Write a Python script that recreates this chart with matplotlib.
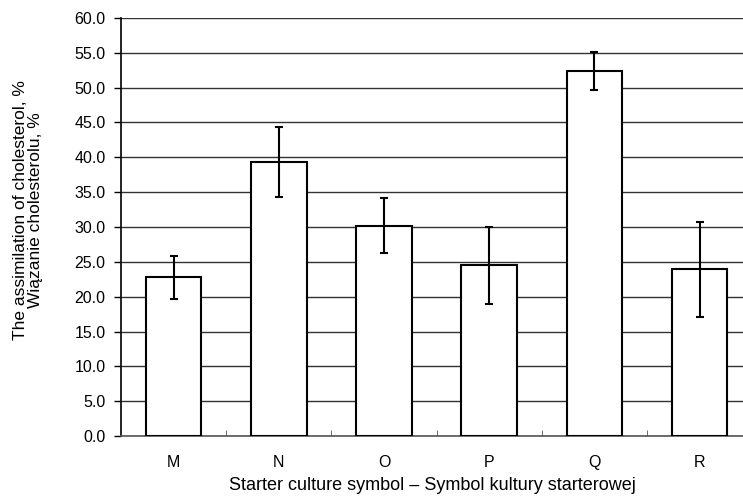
import matplotlib.pyplot as plt
from matplotlib.ticker import FormatStrFormatter, FixedLocator

plt.rcParams['font.family'] = ['Liberation Sans', 'DejaVu Sans']

categories = ['M', 'N', 'O', 'P', 'Q', 'R']
values = [22.8, 39.3, 30.2, 24.5, 52.4, 23.9]
errors = [3.1, 5.0, 4.0, 5.5, 2.7, 6.8]

fig = plt.figure(figsize=(7.43, 4.98), dpi=100)
ax = fig.add_axes([121/743, 62/498, 622/743, 418/498])

x = range(len(categories))
ax.bar(x, values, width=0.53, color='white', edgecolor='black', linewidth=1.5, zorder=3)
ax.errorbar(x, values, yerr=errors, fmt='none', ecolor='black', elinewidth=1.5,
            capsize=3, capthick=1.5, zorder=4)

ax.set_ylim(0, 60)
ax.set_xlim(-0.5, -0.5 + 622/105.2)
ax.set_yticks(range(0, 61, 5))
ax.yaxis.set_major_formatter(FormatStrFormatter('%.1f'))
ax.set_xticks(list(x))
ax.set_xticklabels(categories)
ax.xaxis.set_minor_locator(FixedLocator([i + 0.5 for i in range(5)]))
ax.tick_params(axis='x', which='major', length=0, pad=14, labelsize=11.5)
ax.tick_params(axis='x', which='minor', direction='in', length=4, color='#555555')
ax.tick_params(axis='y', direction='out', length=5, width=1, labelsize=11.5, pad=6)

ax.yaxis.grid(True, color='#333333', linewidth=1, zorder=0)
ax.set_axisbelow(True)
for s in ['top', 'right']:
    ax.spines[s].set_visible(False)
ax.spines['left'].set_linewidth(1.2)
ax.spines['bottom'].set_color('#555555')
ax.spines['bottom'].set_linewidth(1.2)

ax.set_ylabel('The assimilation of cholesterol, %\nWiązanie cholesterolu, %', fontsize=12.5,
              multialignment='center', linespacing=1.05)
ax.yaxis.set_label_coords(-0.125, 0.54)
ax.set_xlabel('Starter culture symbol – Symbol kultury starterowej', fontsize=13, labelpad=5)

fig.savefig('out.png', dpi=100)
